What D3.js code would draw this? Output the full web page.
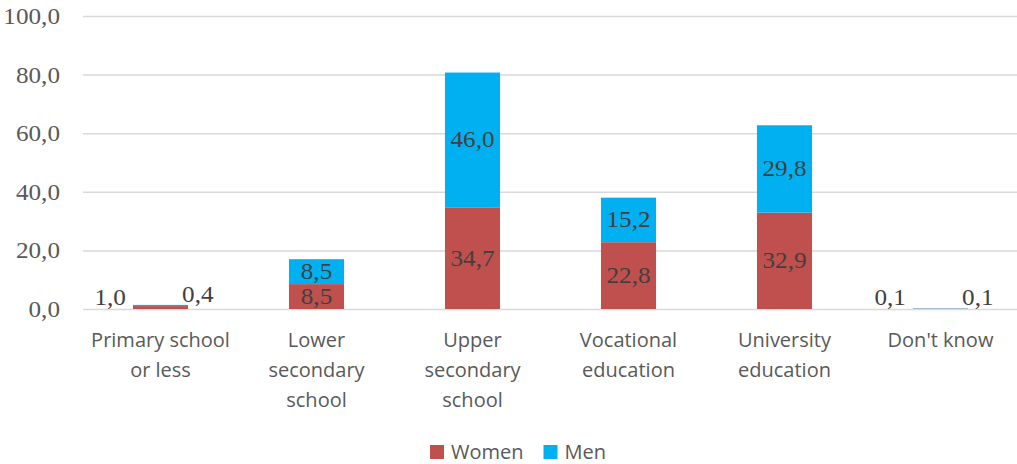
<!DOCTYPE html>
<html>
<head>
<meta charset="utf-8">
<script src="https://cdn.jsdelivr.net/npm/d3@7"></script>
<style>
  body { margin: 0; background: #fff; }
  svg { display: block; }
</style>
</head>
<body>
<svg id="chart" width="1017" height="464"></svg>
<script>
// data
const categories = [
  'Primary school\nor less',
  'Lower\nsecondary\nschool',
  'Upper\nsecondary\nschool',
  'Vocational\neducation',
  'University\neducation',
  "Don't know"
];
const seriesNames = ['Women', 'Men'];
const women = [1.0, 8.5, 34.7, 22.8, 32.9, 0.1];
const men = [0.4, 8.5, 46.0, 15.2, 29.8, 0.1];
const yTicks = [0, 20, 40, 60, 80, 100];
const colors = ['#C0504D', '#00B0F0'];

const W = 1017;
const plotLeft = 83, plotTop = 16, plotBottom = 309;
const serif = "'Liberation Serif', 'Times New Roman', serif";
const sans = "'Open Sans', 'Noto Sans', sans-serif";
const stretch = 1.12; // serif digits in the picture are a bit wide

const svg = d3.select('#chart');

const x = d3.scaleBand()
  .domain(categories)
  .range([plotLeft - 0.5, plotLeft - 0.5 + 936])
  .paddingInner(0.647)
  .paddingOuter(0.3235);

const y = d3.scaleLinear().domain([0, 100]).range([plotBottom, plotTop]);

const fmt = d => d.toFixed(1).replace('.', ',');

// y axis + gridlines
const yAxis = svg.append('g')
  .attr('transform', `translate(${plotLeft},0)`)
  .call(d3.axisLeft(y).tickValues(yTicks).tickFormat(fmt)
    .tickSizeInner(-(W - plotLeft)).tickSizeOuter(0).tickPadding(23));
yAxis.select('.domain').remove();
yAxis.selectAll('.tick line')
  .attr('stroke', '#D9D9D9')
  .attr('stroke-width', 1.5);
yAxis.selectAll('.tick text')
  .attr('x', -23 / stretch)
  .attr('dy', '0.33em')
  .attr('transform', `scale(${stretch},1)`)
  .attr('fill', '#595959')
  .style('font-family', serif)
  .style('font-size', '22.5px');

// stacked bars
const rows = categories.map((c, i) => ({ cat: c, Women: women[i], Men: men[i] }));
const stack = d3.stack().keys(seriesNames)(rows);

const layers = svg.append('g').selectAll('g')
  .data(stack)
  .join('g')
  .attr('fill', (d, i) => colors[i]);

layers.selectAll('rect')
  .data(d => d)
  .join('rect')
  .attr('x', d => x(d.data.cat))
  .attr('width', x.bandwidth())
  .attr('y', d => y(d[1]))
  .attr('height', d => y(d[0]) - y(d[1]));

// data labels
const labels = svg.append('g')
  .style('font-family', serif)
  .style('font-size', '22.5px')
  .attr('fill', '#404040');

stack.forEach((layer, si) => {
  layer.forEach(d => {
    const v = d[1] - d[0];
    const bx = x(d.data.cat);
    let lx, ly, anchor;
    if (y(d[0]) - y(d[1]) < 20) {
      // tiny segments: labels beside the bar
      if (si === 0) {
        lx = bx - 7; anchor = 'end'; ly = y(0) - 4;
      } else {
        lx = bx + x.bandwidth() - 6; anchor = 'start'; ly = y(d[1]) - 3;
      }
    } else {
      lx = bx + x.bandwidth() / 2; anchor = 'middle';
      ly = (y(d[0]) + y(d[1])) / 2 + 7.5;
    }
    labels.append('text')
      .attr('transform', `translate(${lx},${ly}) scale(${stretch},1)`)
      .attr('text-anchor', anchor)
      .text(fmt(v));
  });
});

// category labels
const xLab = svg.append('g')
  .style('font-family', sans)
  .style('font-size', '20px')
  .attr('fill', '#595959')
  .attr('text-anchor', 'middle');

categories.forEach(c => {
  const t = xLab.append('text')
    .attr('x', x(c) + x.bandwidth() / 2)
    .attr('y', 347);
  c.split('\n').forEach((line, i) => {
    t.append('tspan')
      .attr('x', x(c) + x.bandwidth() / 2)
      .attr('dy', i === 0 ? 0 : 30)
      .text(line);
  });
});

// legend
const legend = svg.append('g')
  .style('font-family', sans)
  .style('font-size', '20px');
let legX = 0;
seriesNames.forEach((n, i) => {
  const g = legend.append('g');
  g.append('rect').attr('width', 14).attr('height', 14).attr('y', -14).attr('fill', colors[i]);
  const t = g.append('text').attr('x', 21).attr('fill', '#595959').text(n);
  g.attr('transform', `translate(${legX},0)`);
  legX += 21 + t.node().getComputedTextLength() + 20;
});
const legendW = legX - 20;
legend.attr('transform', `translate(${518 - legendW / 2},459)`);
</script>
</body>
</html>
